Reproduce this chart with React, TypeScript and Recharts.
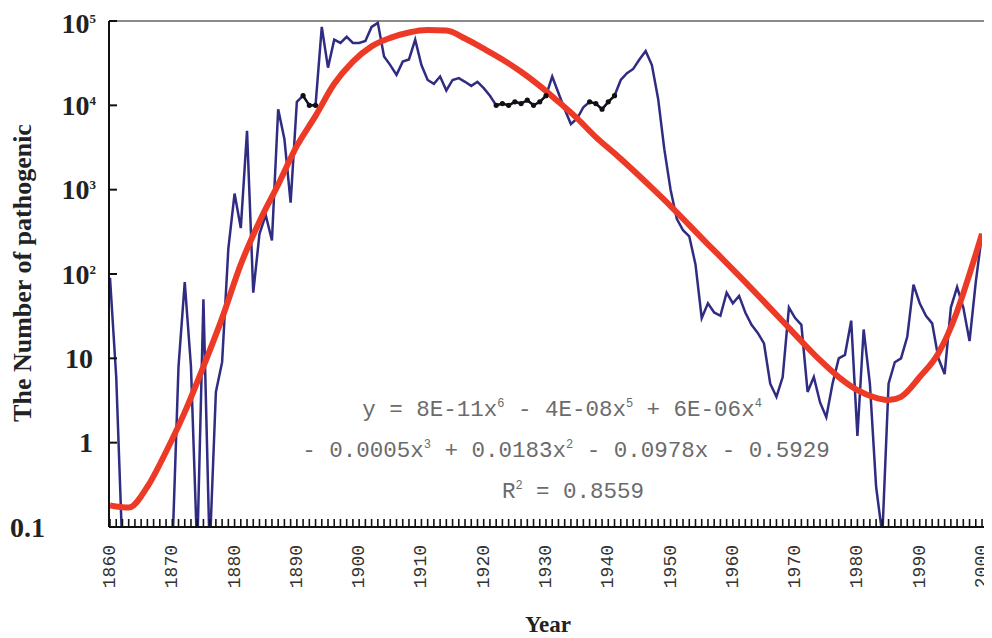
import React from 'react';
import { LineChart, Line, XAxis, YAxis, Customized } from 'recharts';

// ---------- data ----------
const startYear = 1860;
const endYear = 2000;

// annual counts (blue), grouped by decade
const counts1860s = [90, 6, 0.05, 0.05, 0.05, 0.05, 0.05, 0.05, 0.05, 0.05];
const counts1870s = [0.05, 8, 80, 8, 0.05, 50, 0.05, 4, 9, 200];
const counts1880s = [900, 350, 5000, 60, 300, 500, 250, 9000, 4000, 700];
const counts1890s = [11000, 13000, 10000, 10000, 85000, 28000, 60000, 55000, 65000, 55000];
const counts1900s = [55000, 58000, 85000, 95000, 38000, 30000, 23000, 33000, 35000, 60000];
const counts1910s = [30000, 20000, 18000, 22000, 15000, 20000, 21000, 19000, 17000, 19000];
const counts1920s = [16000, 13000, 10000, 10500, 10000, 11000, 10500, 11500, 10000, 11000];
const counts1930s = [13000, 22000, 14000, 9000, 6000, 7000, 9500, 11000, 10500, 9000];
const counts1940s = [11000, 13000, 20000, 24000, 27000, 35000, 44000, 30000, 12000, 3000];
const counts1950s = [1000, 450, 330, 280, 130, 30, 45, 35, 32, 60];
const counts1960s = [45, 55, 35, 25, 20, 15, 5, 3.5, 6, 40];
const counts1970s = [30, 25, 4, 6, 3, 2, 5, 10, 11, 28];
const counts1980s = [1.2, 22, 5, 0.3, 0.08, 5, 9, 10, 18, 75];
const counts1990s = [45, 32, 26, 10, 6.5, 40, 70, 40, 16, 80];
const counts2000 = [300];

const counts = [
  ...counts1860s, ...counts1870s, ...counts1880s, ...counts1890s, ...counts1900s,
  ...counts1910s, ...counts1920s, ...counts1930s, ...counts1940s, ...counts1950s,
  ...counts1960s, ...counts1970s, ...counts1980s, ...counts1990s, ...counts2000,
];

// years drawn in black in the original series
const blackRanges: [number, number][] = [[1891, 1893], [1922, 1930], [1937, 1941]];

// polynomial trend line (red)
const trendYears = [1860, 1863, 1866, 1869, 1872, 1875, 1878, 1881, 1884, 1887, 1890, 1893, 1896, 1899,
  1902, 1905, 1908, 1911, 1914, 1917, 1920, 1923, 1926, 1929, 1932, 1935, 1938, 1941, 1944, 1947,
  1950, 1953, 1956, 1959, 1962, 1965, 1968, 1971, 1974, 1977, 1980, 1983, 1985, 1987, 1990, 1993,
  1996, 1998, 2000];
const trendValues = [0.18, 0.17, 0.3, 0.78, 2.3, 8, 30, 130, 420, 1150, 3300, 7500, 18000, 33000,
  50000, 63000, 73000, 78000, 77000, 62000, 47000, 35000, 25000, 17000, 11000, 7000, 4200, 2700, 1700, 1050,
  640, 380, 225, 135, 80, 47, 27.5, 16, 9.5, 6, 4.2, 3.4, 3.2, 3.5, 6, 11.5,
  36, 100, 300];

const yTicks = [0.1, 1, 10, 100, 1000, 10000, 100000];

const eqLine1 = ['y = 8E-11x', '6', ' - 4E-08x', '5', ' + 6E-06x', '4'];
const eqLine2 = ['- 0.0005x', '3', ' + 0.0183x', '2', ' - 0.0978x - 0.5929'];
const eqLine3 = ['R', '2', ' = 0.8559'];

// ---------- built tables ----------
const years: number[] = counts.map((_, i) => startYear + i);
const blueData = counts.map((v, i) => ({ year: years[i], v }));
const blackData = counts.map((v, i) => {
  const y = years[i];
  const inside = blackRanges.some(([a, b]) => y >= a && y <= b);
  return { year: y, v: inside ? v : null };
});
const trendData = trendYears.map((y, i) => ({ year: y, v: trendValues[i] }));

// ---------- layout ----------
const W = 984;
const H = 630;
const MARGIN = { top: 13, right: 6, bottom: 0, left: 41 };
const Y_AXIS_W = 60;
const X_AXIS_H = 111;
const PLOT_LEFT = MARGIN.left + Y_AXIS_W;
const PLOT_RIGHT = W - MARGIN.right;
const PLOT_TOP = MARGIN.top;
const PLOT_BOTTOM = H - MARGIN.bottom - X_AXIS_H;

const SERIF = '"Liberation Serif", "Times New Roman", serif';
const MONO = '"Liberation Mono", "Courier New", monospace';

const YTick = (props: any) => {
  const { y, payload } = props;
  const v = payload.value as number;
  let label: React.ReactNode;
  let right = 85;
  if (v >= 100) {
    const exp = Math.round(Math.log10(v));
    right = 88;
    label = (
      <>
        10<tspan dy={-10} fontSize={13}>{exp}</tspan>
      </>
    );
  } else if (v === 0.1) {
    right = 37;
    label = '0.1';
  } else {
    label = String(v);
  }
  const ty = v === 100000 ? y + 2 : y;
  return (
    <g>
      <line x1={PLOT_LEFT} x2={PLOT_LEFT + 8} y1={y} y2={y} stroke="#111" strokeWidth={2} />
      <text x={right} y={ty} dy="0.35em" textAnchor="end" fontFamily={SERIF} fontWeight="bold" fontSize={28} fill="#222">
        {label}
      </text>
    </g>
  );
};

const XTick = (props: any) => {
  const { x, payload } = props;
  const yr = payload.value as number;
  return (
    <g>
      <line x1={x} x2={x} y1={PLOT_BOTTOM} y2={PLOT_BOTTOM - 8} stroke="#111" strokeWidth={1.6} />
      {yr % 10 === 0 && (
        <text
          transform={`translate(${x},${PLOT_BOTTOM + 18}) rotate(-90)`}
          textAnchor="end"
          dominantBaseline="central"
          fontFamily={MONO}
          fontSize={18}
          fill="#333"
        >
          {yr}
        </text>
      )}
    </g>
  );
};

const renderParts = (parts: string[]) =>
  parts.map((p, i) =>
    i % 2 === 1 ? (
      <tspan key={i} dy={-9} fontSize={12}>{p}</tspan>
    ) : (
      <tspan key={i} dy={i === 0 ? 0 : 9}>{p}</tspan>
    )
  );

const Decorations = () => (
  <g>
    <line x1={PLOT_LEFT} x2={PLOT_RIGHT} y1={PLOT_TOP} y2={PLOT_TOP} stroke="#8a8a8a" strokeWidth={2} />
    <line x1={PLOT_RIGHT} x2={PLOT_RIGHT} y1={PLOT_TOP} y2={PLOT_BOTTOM} stroke="#8a8a8a" strokeWidth={2} />
    <g fontFamily={MONO} fontSize={22.5} fill="#6b6b6b" textAnchor="middle">
      <text x={554} y={408} dy="0.35em">{renderParts(eqLine1)}</text>
      <text x={558} y={449} dy="0.35em">{renderParts(eqLine2)}</text>
      <text x={565} y={490} dy="0.35em">{renderParts(eqLine3)}</text>
    </g>
    <text
      transform={`translate(14,265) rotate(-90)`}
      textAnchor="middle"
      dominantBaseline="central"
      fontFamily={SERIF}
      fontWeight="bold"
      fontSize={26}
      fill="#222"
    >
      The Number of pathogenic
    </text>
    <text x={540} y={616} textAnchor="middle" dominantBaseline="central" fontFamily={SERIF} fontWeight="bold" fontSize={23} fill="#222">
      Year
    </text>
  </g>
);

export default function App() {
  return (
    <div style={{ width: W, height: H }}>
      <LineChart width={W} height={H} margin={MARGIN}>
        <XAxis
          dataKey="year"
          type="number"
          domain={[startYear, endYear]}
          ticks={years}
          interval={0}
          padding={{ left: 1, right: 4 }}
          height={X_AXIS_H}
          tick={<XTick />}
          tickLine={false}
          axisLine={{ stroke: '#111', strokeWidth: 2 }}
          allowDataOverflow
        />
        <YAxis
          type="number"
          scale="log"
          domain={[0.1, 100000]}
          ticks={yTicks}
          interval={0}
          width={Y_AXIS_W}
          tick={<YTick />}
          tickLine={false}
          axisLine={{ stroke: '#111', strokeWidth: 2 }}
          allowDataOverflow
        />
        <Customized component={<Decorations />} />
        <Line data={blueData} dataKey="v" stroke="#2f2c82" strokeWidth={2.5} dot={false} isAnimationActive={false} />
        <Line data={blackData} dataKey="v" stroke="#111" strokeWidth={2} dot={{ r: 1.6, fill: '#111', stroke: '#111' }} connectNulls={false} isAnimationActive={false} />
        <Line data={trendData} dataKey="v" type="monotone" stroke="#ec3a26" strokeWidth={6} dot={false} isAnimationActive={false} />
      </LineChart>
    </div>
  );
}
